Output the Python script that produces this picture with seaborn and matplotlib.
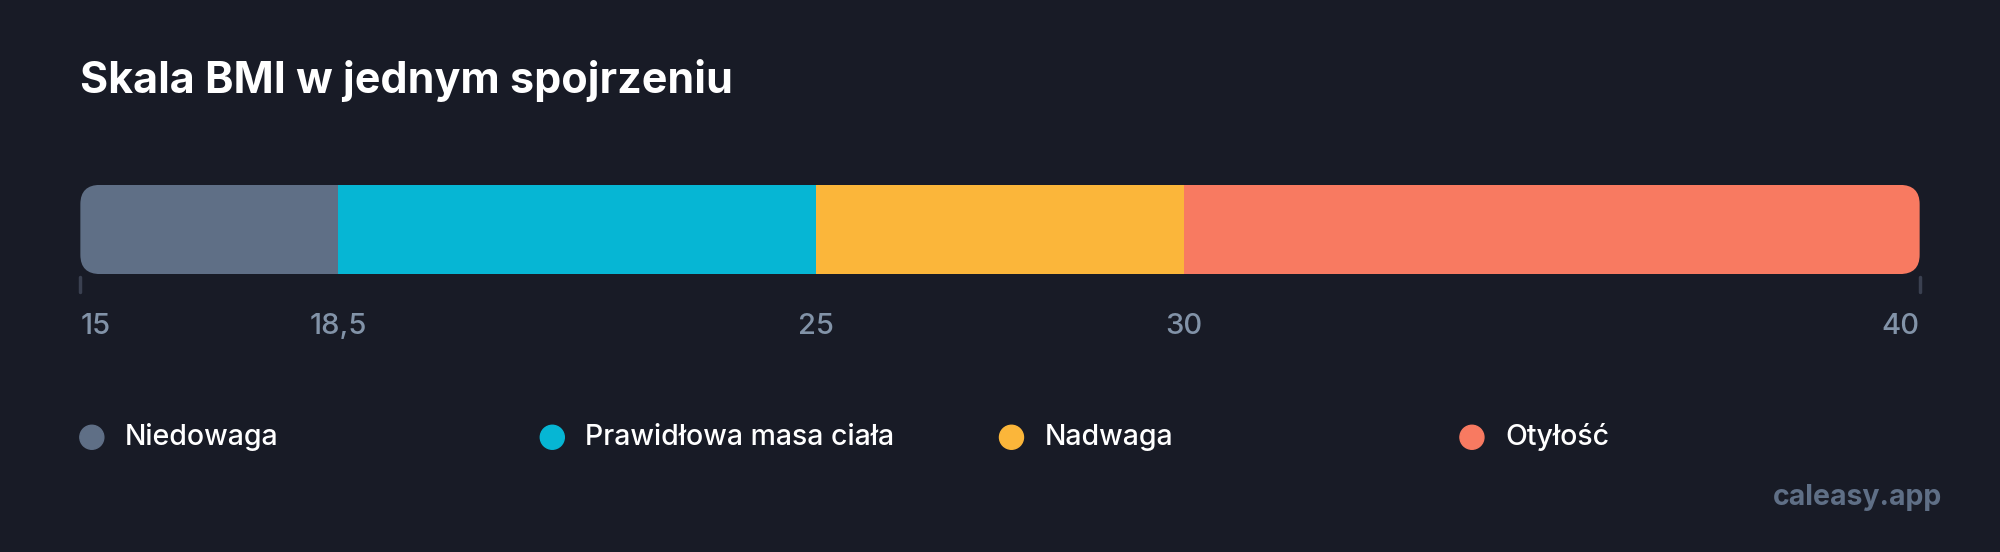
import matplotlib.pyplot as plt
import seaborn as sns
from matplotlib.patches import FancyBboxPatch

sns.set_theme(style="white")
plt.rcParams['font.family'] = ['Inter', 'DejaVu Sans']

# data
categories = ['Niedowaga', 'Prawidłowa masa ciała', 'Nadwaga', 'Otyłość']
starts = [15, 18.5, 25, 30]
ends = [18.5, 25, 30, 40]
colors = ['#5f6f86', '#06b6d4', '#fbb63a', '#f87a61']
tick_values = [15, 18.5, 25, 30, 40]
tick_labels = ['15', '18,5', '25', '30', '40']

bg = '#181b26'
W, H = 1568, 433  # layout reference grid

fig = plt.figure(figsize=(20, 5.52), dpi=100, facecolor=bg)

# bar axes
ax = fig.add_axes([63 / W, 1 - 215 / H, (1505 - 63) / W, 70 / H])
ax.set_facecolor(bg)
ax.set_xlim(15, 40)
ax.set_ylim(0, 1)
ax.axis('off')

clip = FancyBboxPatch((15, 0), 25, 1, boxstyle="round,pad=0,rounding_size=0.27",
                      mutation_aspect=0.8, transform=ax.transData,
                      facecolor='none', edgecolor='none')
ax.add_patch(clip)
for s, e, c in zip(starts, ends, colors):
    bars = ax.barh(0.5, e - s, left=s, height=1, color=c, linewidth=0)
    for b in bars:
        b.set_clip_path(clip)

# end ticks and labels
px = 1 / 70  # one reference px in y units
for v in [15, 40]:
    ax.plot([v, v], [-2 * px, -14 * px], color='#3a4050', lw=2.5, clip_on=False)
for v, lab in zip(tick_values, tick_labels):
    ha = 'left' if v == 15 else ('right' if v == 40 else 'center')
    ax.text(v, -(256 - 215) * px, lab, ha=ha, va='center', color='#8293a8',
            fontsize=21, fontweight='medium', clip_on=False)

# title
fig.text(63 / W, 1 - 63 / H, 'Skala BMI w jednym spojrzeniu', color='white',
         fontsize=31, fontweight='bold', ha='left', va='center')

# legend
leg_x = [72, 433, 793, 1154]
for x, lab, c in zip(leg_x, categories, colors):
    fig.patches.append(plt.Circle((x / W * 20, (1 - 343 / H) * 5.52), 0.12,
                                  transform=fig.dpi_scale_trans, color=c))
    fig.text((x + 26) / W, 1 - 343 / H, lab, color='white', fontsize=20.5,
             fontweight='medium', ha='left', va='center')

fig.text(1523 / W, 1 - 390 / H, 'caleasy.app', color='#5f6f86', fontsize=20.5,
         fontweight='bold', ha='right', va='center')

fig.savefig('out.png', facecolor=bg)
